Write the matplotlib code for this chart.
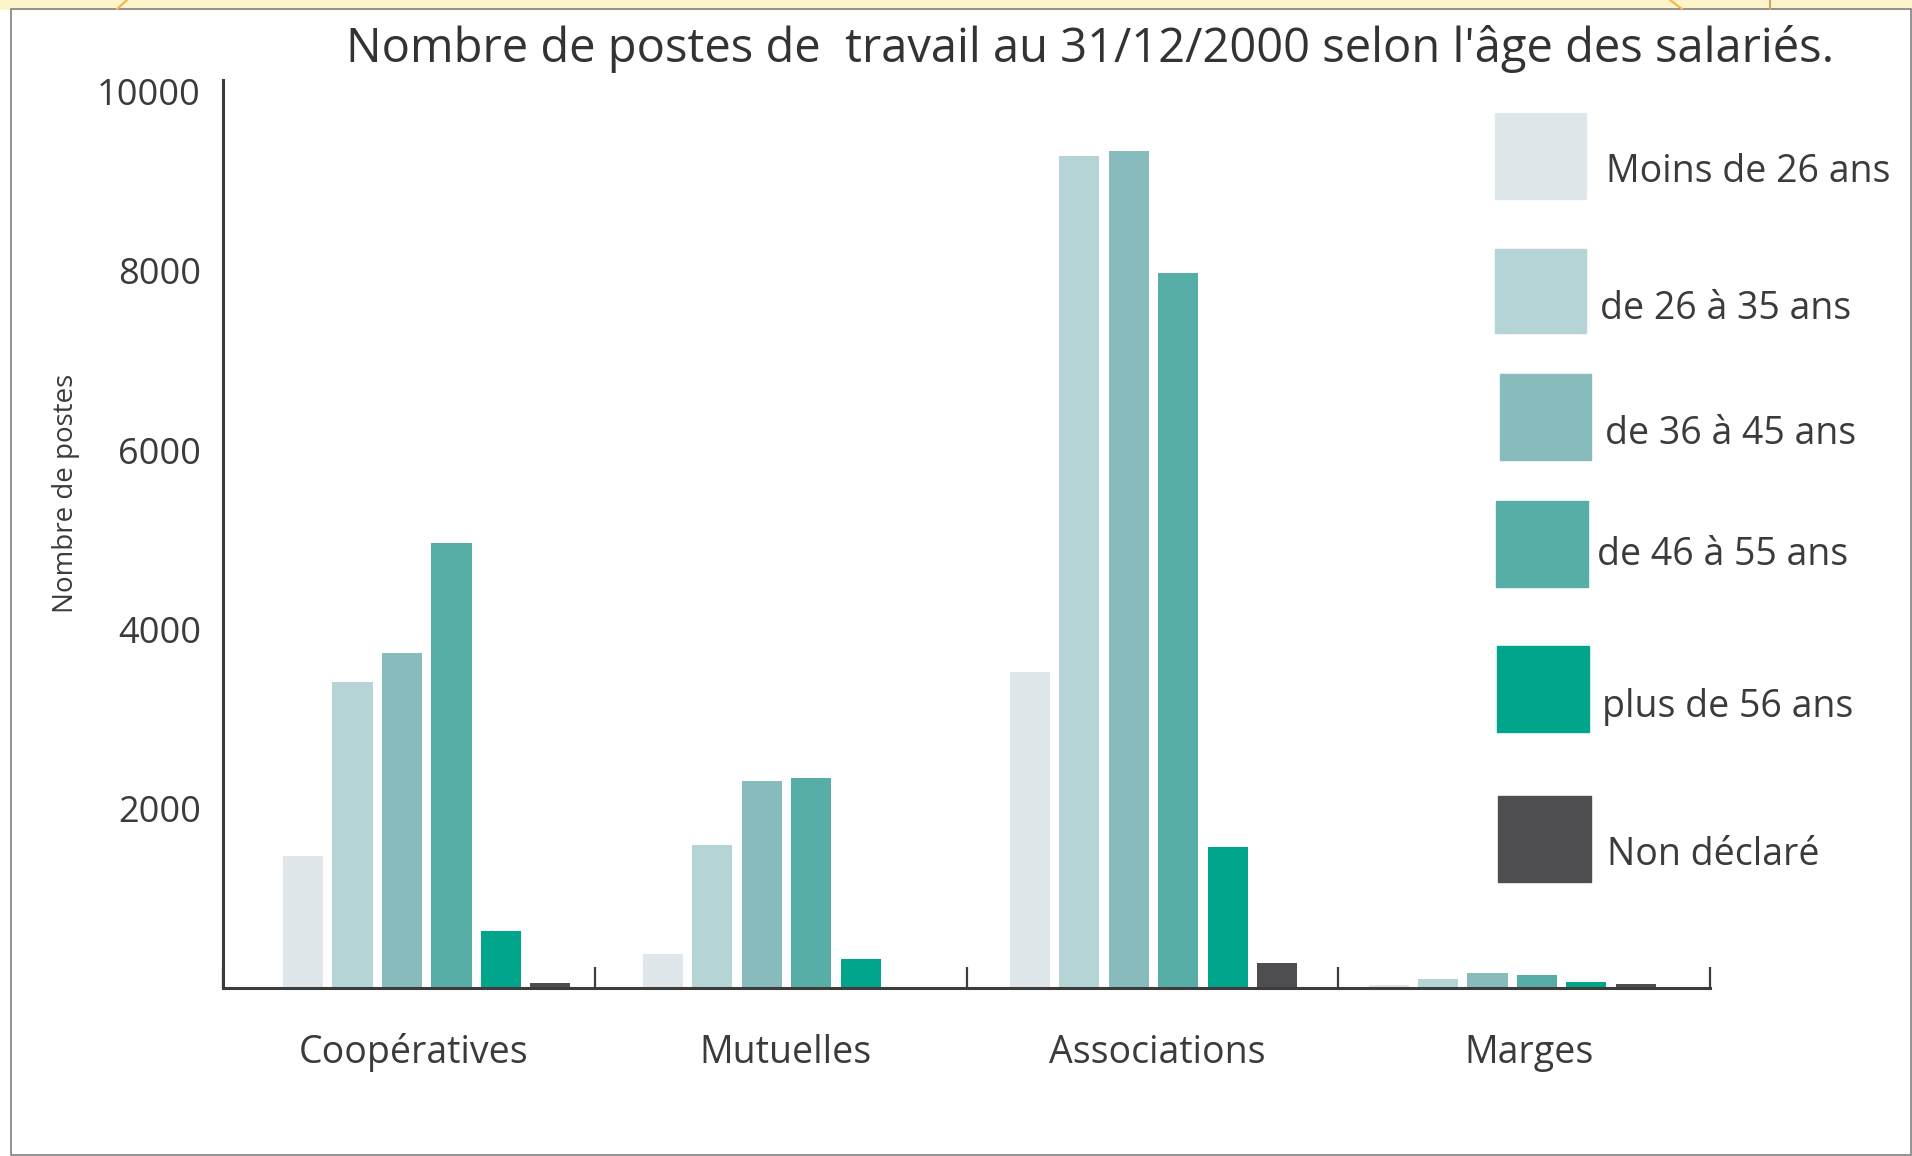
import numpy as np
import matplotlib
matplotlib.use('Agg')
import matplotlib.pyplot as plt
from matplotlib.patches import Rectangle
from matplotlib.lines import Line2D

plt.rcParams['font.family'] = ['Open Sans', 'DejaVu Sans']

# --- data -----------------------------------------------------------------
categories = ['Coopératives', 'Mutuelles', 'Associations', 'Marges']
age_groups = ['Moins de 26 ans', 'de 26 à 35 ans', 'de 36 à 45 ans',
              'de 46 à 55 ans', 'plus de 56 ans', 'Non déclaré']

# nombre de postes, one value per category
moins_26 = [1470, 380, 3525, 35]
de_26_35 = [3415, 1595, 9280, 100]
de_36_45 = [3735, 2310, 9335, 170]
de_46_55 = [4965, 2340, 7975, 145]
plus_56 = [635, 325, 1575, 65]
non_declare = [60, 0, 280, 40]

yticks = [2000, 4000, 6000, 8000, 10000]

title = "Nombre de postes de  travail au 31/12/2000 selon l'âge des salariés."
ylabel = 'Nombre de postes'

# --- style ----------------------------------------------------------------
colors = ['#dfe7eb', '#b4d4d5', '#88bcbc', '#56aea7', '#00a58c', '#4e4e50']
series = [moins_26, de_26_35, de_36_45, de_46_55, plus_56, non_declare]
txt = '#3b3b3b'
axcol = '#3c3c3c'
# groups are not perfectly centred in the original drawing
group_nudge = np.array([0.048, 0.016, 0.003, -0.032])

W, H = 1912, 1156


def fx(x):
    return x / W


def fy(y):
    return 1 - y / H


fig = plt.figure(figsize=(W / 100, H / 100), dpi=100)

# page decoration: yellow strip on top, grey frame
fig.add_artist(Rectangle((0, fy(9)), 1, 9 / H, transform=fig.transFigure,
                         color='#fdf4cc', zorder=0))
fig.add_artist(Rectangle((fx(11), fy(1155)), fx(1911) - fx(11), (1155 - 9) / H,
                         transform=fig.transFigure, fill=False,
                         ec='#808080', lw=1.2))
for xs, ys, c in [((117, 127), (9, 0), '#f5b54a'),
                  ((1670, 1682), (0, 9), '#f5b54a'),
                  ((1770, 1770), (0, 9), '#c9a86a')]:
    fig.add_artist(Line2D([fx(v) for v in xs], [fy(v) for v in ys],
                          transform=fig.transFigure, color=c, lw=1.5))

# --- bars -----------------------------------------------------------------
ax = fig.add_axes([fx(223), 1 - 988 / H, (1710 - 223) / W, (988 - 80) / H])
ax.patch.set_alpha(0)
x = np.arange(len(categories))
step, bw = 0.133, 0.108
for j, (vals, c) in enumerate(zip(series, colors)):
    ax.bar(x + group_nudge + (j - 2.5) * step, vals, width=bw, color=c,
           zorder=1)

ax.set_xlim(-0.5, 3.5)
ax.set_ylim(0, 10128)

for s in ['top', 'right']:
    ax.spines[s].set_visible(False)
for s in ['left', 'bottom']:
    ax.spines[s].set_linewidth(2.2)
    ax.spines[s].set_color(axcol)

ax.set_yticks(yticks)
ax.set_yticklabels([str(v) for v in yticks])
ax.tick_params(axis='y', length=0, pad=16, labelsize=26, labelcolor=txt)

ax.set_xticks(x + 0.013)
ax.set_xticklabels(categories, va='baseline')
ax.tick_params(axis='x', which='major', length=0, pad=54, labelsize=27,
               labelcolor=txt)
ax.set_xticks(np.arange(-0.5, 4, 1), minor=True)
ax.tick_params(axis='x', which='minor', direction='in', length=15, width=1.6,
               color=axcol)

fig.text(fx(66), fy(493), ylabel, rotation=90, ha='center', va='center',
         fontsize=20, color=txt)
fig.text(fx(1090), fy(62), title, ha='center', va='baseline', fontsize=33.9,
         color='#333333')

# --- legend (hand placed, like the original) ------------------------------
sw_boxes = [(1495, 113, 1586, 199), (1495, 249, 1586, 333),
            (1500, 374, 1591, 460), (1496, 501, 1588, 587),
            (1497, 646, 1589, 732), (1498, 796, 1591, 882)]
lab_pos = [(1606, 182), (1600, 319), (1605, 444), (1597, 565),
           (1602, 717), (1607, 865)]
for (x0, y0, x1, y1), (tx, ty), c, lab in zip(sw_boxes, lab_pos, colors,
                                              age_groups):
    fig.add_artist(Rectangle((fx(x0), fy(y1)), (x1 - x0) / W, (y1 - y0) / H,
                             transform=fig.transFigure, color=c))
    fig.text(fx(tx), fy(ty), lab, ha='left', va='baseline', fontsize=27,
             color=txt)

fig.savefig('out.png', dpi=100)
